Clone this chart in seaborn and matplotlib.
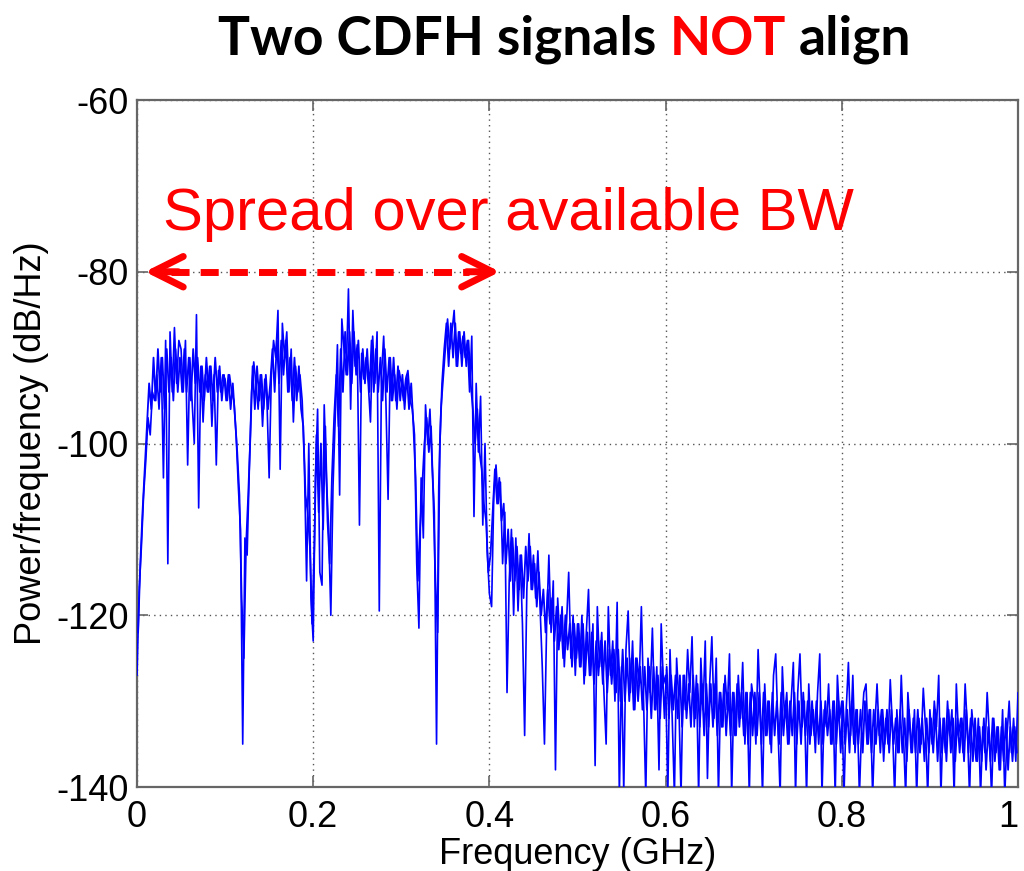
import numpy as np
import pandas as pd
import matplotlib
matplotlib.use("Agg")
import matplotlib.pyplot as plt
import seaborn as sns

# ---------------- data ----------------
x_ticks = [0, 0.2, 0.4, 0.6, 0.8, 1.0]
x_tick_labels = ["0", "0.2", "0.4", "0.6", "0.8", "1"]
y_ticks = [-140, -120, -100, -80, -60]
y_tick_labels = ["-140", "-120", "-100", "-80", "-60"]

# PSD samples (dB/Hz) on a 0.0025 GHz grid (spikes and dips of the trace)
psd_inband = [  # 0 .. 0.3975 GHz
    -127, -117, -112, -106, -102, -97, -99, -94, -95, -92, -96, -90, -104, -88, -114, -87, -94, -86.5, -93, -88,
    -89, -94, -88, -102.5, -90, -95, -100, -85, -107.5, -91, -97.5, -92, -94, -91, -98, -92, -102.5, -91.5, -94, -92,
    -92.5, -95, -92, -94, -95, -99, -105, -110, -135, -111, -113, -103, -94, -90.5, -93, -96, -92, -98, -92.5, -95,
    -104, -92, -88, -90, -84.5, -103, -86, -90, -87, -94, -89, -97.5, -91, -94, -92, -95, -102.5, -116, -100, -118,
    -123, -104, -96, -115, -116.5, -95.5, -104, -110, -120, -105, -97, -88.5, -106, -85.5, -89, -92, -82, -96, -84.5, -91,
    -88.5, -109.5, -89.5, -92.5, -90, -93, -97.5, -87.5, -93, -87, -119.5, -92, -87.5, -95, -106.5, -90, -95, -92, -96, -91.5,
    -93, -95, -92.5, -91.5, -95, -96, -99, -114, -121.5, -104, -111, -95.5, -100, -96, -102.5, -108, -135, -105, -96, -92.5,
    -89, -85.5, -89, -87, -84.5, -91, -87, -89.5, -87.5, -90, -88, -94, -87.5, -108.5, -93, -101, -94.5, -109.5, -100, -112.5,
]
psd_rolloff = [  # 0.40 .. 0.5975 GHz
    -117.5, -119, -106, -102.5, -107, -104.5, -114, -108, -129, -116, -110, -120, -111, -119.5, -113, -121, -134, -117, -110.5, -117,
    -113, -118, -112.5, -119, -126, -135, -121, -113, -122, -116, -138, -118, -123, -119, -126, -121, -115, -125, -120, -127,
    -121, -126, -120, -128, -122, -117, -127, -121, -137.5, -119, -126, -122, -129, -135, -119, -127, -123, -130, -118.5, -141,
    -126, -140.5, -124, -119.5, -129, -123, -131, -125, -128, -119, -130, -141, -125, -129, -121.5, -131, -126, -138, -121, -128,
]
psd_floor = [  # 0.60 .. 1.00 GHz
    -127, -141, -124, -132, -141, -125, -130, -141, -127, -131, -124, -129, -122.5, -133, -127, -141, -125, -131, -123, -139,
    -128, -122.5, -132, -125, -141, -129, -133, -127, -131, -124.5, -141, -129, -134, -127, -132, -125.5, -135, -129, -141, -128,
    -130, -135, -124, -131, -141, -128, -134, -130, -136, -127, -124.5, -133, -141, -126, -132, -129, -135, -130, -125.5, -141,
    -129, -124.5, -133, -130, -141, -128, -134, -131, -136, -129, -124.5, -141, -131, -133, -128, -135, -130, -141, -127, -132,
    -130, -141, -131, -125.5, -134, -127, -136, -131, -141, -133, -129, -128, -135, -131, -141, -133, -128, -134, -131, -137,
    -132, -135, -127.5, -133, -141, -131, -136, -127, -134, -141, -129, -133, -136, -131, -141, -132, -135, -128.5, -133, -141,
    -131, -135, -130, -133, -127, -141, -132, -136, -130, -134, -131, -141, -128, -134, -132, -136, -128, -133, -141, -131,
    -134, -137, -132, -141, -133, -136, -129, -134, -141, -132, -136, -133, -138, -131, -141, -134, -130, -136, -132, -137,
    -129,
]

# samples of the dense core of the trace, half-way between the grid samples above
core_inband = [
    -122, -114, -108, -103, -98, -93, -96, -90, -95, -89, -94, -90, -96, -89, -94, -90, -95, -89, -94, -90,
    -94, -89, -94, -90, -95, -89, -93, -90, -94, -91, -95, -90, -94, -91, -95, -90, -94, -91, -95, -92,
    -95, -92, -96, -93, -97, -101, -106, -118, -125, -112, -106, -99, -91, -96, -91, -95, -92, -96, -92, -96,
    -93, -89, -94, -88, -93, -88, -92, -88, -94, -90, -95, -90, -95, -91, -96, -98, -106, -108, -112, -121,
    -112, -99, -108, -100, -110, -98, -109, -114, -104, -97, -92, -98, -89, -94, -87, -92, -87, -93, -87, -92,
    -88, -94, -89, -93, -89, -94, -88, -94, -89, -94, -90, -95, -89, -94, -90, -95, -90, -95, -91, -95,
    -92, -96, -92, -96, -93, -98, -104, -116, -110, -105, -100, -97, -101, -98, -106, -116, -122, -100, -93, -89,
    -86, -91, -86, -90, -86, -91, -87, -91, -87, -91, -88, -93, -96, -100, -96, -101, -103, -107, -109, -115,
]
core_rolloff = [
    -113, -108, -103, -107, -104, -109, -107, -114, -110, -116, -111, -116, -112, -117, -113, -118, -112, -116, -112, -117,
    -114, -119, -115, -120, -117, -122, -117, -121, -118, -123, -119, -124, -120, -125, -120, -124, -121, -126, -121, -125,
    -121, -126, -121, -127, -122, -127, -122, -128, -123, -127, -123, -128, -123, -129, -124, -128, -124, -129, -124, -130,
    -124, -130, -125, -130, -125, -131, -125, -130, -126, -131, -126, -131, -126, -132, -126, -131, -127, -132, -126, -132,
]
core_floor = [
    -126, -132, -127, -131, -127, -132, -127, -133, -127, -132, -128, -133, -127, -132, -128, -133, -128, -134, -128, -133,
    -128, -133, -128, -134, -129, -133, -128, -134, -129, -134, -129, -134, -128, -133, -129, -134, -129, -135, -129, -134,
    -129, -134, -129, -135, -129, -134, -130, -135, -129, -134, -130, -135, -129, -134, -130, -135, -130, -134, -129, -135,
    -130, -135, -129, -134, -130, -135, -130, -134, -130, -135, -130, -135, -130, -134, -131, -135, -130, -135, -130, -136,
    -130, -135, -131, -136, -130, -135, -131, -135, -131, -136, -130, -135, -131, -136, -131, -135, -131, -136, -131, -135,
    -131, -136, -131, -135, -132, -136, -131, -136, -132, -137, -131, -136, -132, -136, -131, -136, -132, -137, -132, -136,
    -132, -136, -131, -137, -132, -136, -132, -137, -131, -136, -132, -137, -132, -136, -132, -137, -131, -136, -132, -137,
    -132, -137, -133, -137, -132, -138, -133, -137, -132, -137, -133, -138, -133, -137, -132, -138, -133, -137, -133, -136,
]

title_parts = ["Two CDFH signals", "NOT", "align"]
title_colors = ["black", "red", "black"]
annotation_text = "Spread over available BW"
bw_start_ghz = 0.009
bw_end_ghz = 0.412
bw_level_db = -80

# ---------------- figure ----------------
sns.set_theme(style="white")
plt.rcParams["font.family"] = ["Liberation Sans", "DejaVu Sans"]
plt.rcParams["axes.unicode_minus"] = False
plt.rcParams["path.simplify"] = False

W, H = 1024, 871
fig = plt.figure(figsize=(W / 100, H / 100), dpi=100)
fig.patch.set_facecolor("white")
ax = fig.add_axes([137 / W, 84 / H, 881 / W, 687 / H])

psd = np.concatenate([psd_inband, psd_rolloff, psd_floor])
core = np.concatenate([core_inband, core_rolloff, core_floor])
step = 1.0 / (psd.size - 1)
freq = np.arange(psd.size) * step
freq_core = np.arange(core.size) * step + step / 2

df_core = pd.DataFrame({"freq": freq_core, "psd": core})
df = pd.DataFrame({"freq": freq, "psd": psd})
sns.lineplot(data=df_core, x="freq", y="psd", ax=ax, color="#0000FF", lw=1.3,
             estimator=None, sort=True, zorder=3)
sns.lineplot(data=df, x="freq", y="psd", ax=ax, color="#0000FF", lw=1.2,
             estimator=None, sort=True, zorder=3)

ax.set_xlim(0, 1)
ax.set_ylim(-140, -60)
ax.set_xticks(x_ticks)
ax.set_xticklabels(x_tick_labels)
ax.set_yticks(y_ticks)
ax.set_yticklabels(y_tick_labels)
ax.tick_params(direction="in", length=8, width=1.2, colors="#666666",
               labelcolor="black", labelsize=26, top=True, right=True,
               bottom=True, left=True, pad=6)
ax.tick_params(axis="x", pad=9)
ax.get_xticklabels()[-1].set_horizontalalignment("right")
for s in ax.spines.values():
    s.set_visible(True)
    s.set_color("#666666")
    s.set_linewidth(1.6)
ax.grid(True, linestyle=(0, (1, 3)), color="#555555", linewidth=1.0)
ax.set_axisbelow(True)
ax.set_xlabel("Frequency (GHz)", fontsize=26, color="black", labelpad=2)
ax.set_ylabel("Power/frequency (dB/Hz)", fontsize=26, color="black", labelpad=5)

# dashed double arrow
ax.plot([bw_start_ghz + 0.03, bw_end_ghz - 0.035], [bw_level_db, bw_level_db],
        color="red", lw=5, linestyle=(0, (2.6, 1.6)), solid_capstyle="butt",
        dash_capstyle="butt", zorder=5)
for tip, off in [(bw_start_ghz, 24), (bw_end_ghz, -24)]:
    ax.annotate("", xy=(tip, bw_level_db), xytext=(off, 0), textcoords="offset points",
                arrowprops=dict(arrowstyle="->,head_length=1.1,head_width=0.55",
                                lw=5, color="red", shrinkA=0, shrinkB=0,
                                mutation_scale=20, capstyle="round", joinstyle="round"),
                zorder=6)

fig.canvas.draw()
r = fig.canvas.get_renderer()


def text_width(s, **kw):
    t = fig.text(0, 0, s, **kw)
    w = t.get_window_extent(renderer=r).width
    t.remove()
    return w


# red annotation text, fitted to its width in the reference
fs = 43
w = text_width(annotation_text, fontsize=fs)
fs = fs * 692 / w
fig.text(163 / W, 1 - 230 / H, annotation_text, fontsize=fs, color="red",
         va="baseline", ha="left")

# title in three colours
tkw = dict(family=["Lato", "DejaVu Sans"], fontweight="bold")
full = " ".join(title_parts)
fs = 40
w = text_width(full, fontsize=fs, **tkw)
fs = fs * 694 / w
x0 = 218
prefix = ""
for part, col in zip(title_parts, title_colors):
    prefix = (prefix + " " + part).strip()
    wp = text_width(prefix, fontsize=fs, **tkw)
    wpart = text_width(part, fontsize=fs, **tkw)
    fig.text((x0 + wp - wpart) / W, 1 - 55 / H, part, fontsize=fs, color=col,
             va="baseline", ha="left", **tkw)

fig.savefig("out.png", dpi=100, facecolor="white")
